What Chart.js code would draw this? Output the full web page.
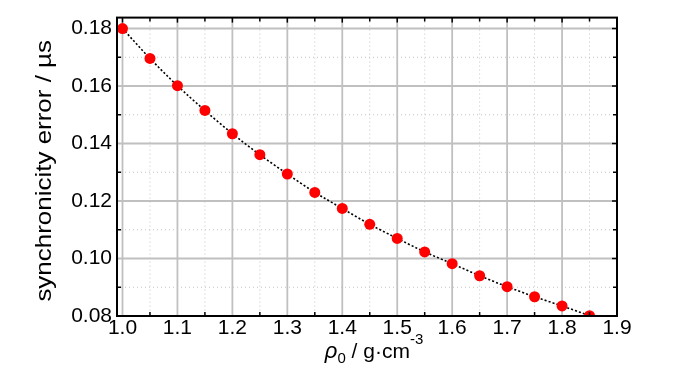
<!DOCTYPE html>
<html>
<head>
<meta charset="utf-8">
<script src="https://cdn.jsdelivr.net/npm/chart.js@4.4.0/dist/chart.umd.min.js"></script>
<style>
  html, body { margin: 0; padding: 0; background: #fff; }
  #wrap { width: 700px; height: 374px; }
</style>
</head>
<body>
<div id="wrap"><canvas id="errChart" width="700" height="374"></canvas></div>
<script>
const density = [1.00, 1.05, 1.10, 1.15, 1.20, 1.25, 1.30, 1.35, 1.40, 1.45, 1.50, 1.55, 1.60, 1.65, 1.70, 1.75, 1.80, 1.85];
const syncError = [0.1800, 0.1696, 0.1601, 0.1515, 0.1434, 0.1361, 0.1294, 0.1230, 0.1174, 0.1119, 0.1070, 0.1023, 0.0982, 0.0940, 0.0902, 0.0867, 0.0835, 0.0801];

const xTicks = [1.0, 1.05, 1.1, 1.15, 1.2, 1.25, 1.3, 1.35, 1.4, 1.45, 1.5, 1.55, 1.6, 1.65, 1.7, 1.75, 1.8, 1.85, 1.9];
const yTicks = [0.08, 0.09, 0.10, 0.11, 0.12, 0.13, 0.14, 0.15, 0.16, 0.17, 0.18];
const xLabels = ["1.0", "1.1", "1.2", "1.3", "1.4", "1.5", "1.6", "1.7", "1.8", "1.9"];
const yLabels = ["0.08", "0.10", "0.12", "0.14", "0.16", "0.18"];

const FONT = "Liberation Sans, Arial, sans-serif";

// grid, frame, inward ticks and axis titles
const framePlugin = {
  id: "frame",
  beforeDatasetsDraw(chart) {
    const { ctx, chartArea: a, scales: { x, y } } = chart;
    ctx.save();
    xTicks.forEach((v, i) => {
      const px = x.getPixelForValue(v);
      ctx.beginPath();
      if (i % 2 === 0) {
        ctx.setLineDash([]);
        ctx.strokeStyle = "#c0c0c0";
        ctx.lineWidth = 1.8;
      } else {
        ctx.setLineDash([1, 3]);
        ctx.strokeStyle = "#c4c4c4";
        ctx.lineWidth = 1;
      }
      ctx.moveTo(px, a.top);
      ctx.lineTo(px, a.bottom);
      ctx.stroke();
    });
    yTicks.forEach((v, i) => {
      const py = y.getPixelForValue(v);
      ctx.beginPath();
      if (i % 2 === 0) {
        ctx.setLineDash([]);
        ctx.strokeStyle = "#c0c0c0";
        ctx.lineWidth = 1.8;
      } else {
        ctx.setLineDash([1, 3]);
        ctx.strokeStyle = "#c4c4c4";
        ctx.lineWidth = 1;
      }
      ctx.moveTo(a.left, py);
      ctx.lineTo(a.right, py);
      ctx.stroke();
    });
    ctx.restore();
  },
  afterDraw(chart) {
    const { ctx, chartArea: a, scales: { x, y } } = chart;
    ctx.save();
    ctx.setLineDash([]);
    ctx.strokeStyle = "#000";
    ctx.lineWidth = 1.5;
    xTicks.forEach((v, i) => {
      const px = x.getPixelForValue(v);
      const major = i % 2 === 0;
      ctx.beginPath();
      ctx.moveTo(px, a.top);
      ctx.lineTo(px, a.top + (major ? 5 : 4));
      if (!major) {
        ctx.moveTo(px, a.bottom);
        ctx.lineTo(px, a.bottom - 4);
      }
      ctx.stroke();
    });
    yTicks.forEach((v, i) => {
      const py = y.getPixelForValue(v);
      const major = i % 2 === 0;
      ctx.beginPath();
      ctx.moveTo(a.right, py);
      ctx.lineTo(a.right - (major ? 5 : 4), py);
      if (!major) {
        ctx.moveTo(a.left, py);
        ctx.lineTo(a.left + 4, py);
      }
      ctx.stroke();
    });
    ctx.lineWidth = 2;
    ctx.strokeRect(a.left, a.top, a.right - a.left, a.bottom - a.top);

    // y title (slightly stretched along its length like the original)
    ctx.fillStyle = "#000";
    ctx.font = "22px " + FONT;
    ctx.textAlign = "center";
    ctx.textBaseline = "middle";
    ctx.translate(45, (a.top + a.bottom) / 2 + 4);
    ctx.rotate(-Math.PI / 2);
    ctx.scale(1.18, 1);
    ctx.fillText("synchronicity error / \u00b5s", 0, 0);
    ctx.setTransform(1, 0, 0, 1, 0, 0);

    // x title with sub/superscript
    const parts = [
      { t: "\u03c1", f: "italic 22px " + FONT, dy: 0 },
      { t: "0", f: "15px " + FONT, dy: 5 },
      { t: " / g\u00b7cm", f: "21px " + FONT, dy: 0 },
      { t: "-3", f: "15px " + FONT, dy: -14 }
    ];
    ctx.textAlign = "left";
    ctx.textBaseline = "alphabetic";
    let total = 0;
    parts.forEach(p => { ctx.font = p.f; total += ctx.measureText(p.t).width; });
    let cx = 374 - total / 2;
    const base = 358;
    parts.forEach(p => {
      ctx.font = p.f;
      ctx.fillText(p.t, cx, base + p.dy);
      cx += ctx.measureText(p.t).width;
    });
    ctx.restore();
  }
};

const ctx = document.getElementById("errChart").getContext("2d");

const chart = new Chart(ctx, {
  type: "scatter",
  data: {
    datasets: [
      {
        label: "synchronicity error",
        data: density.map((d, i) => ({ x: d, y: syncError[i] })),
        showLine: true,
        borderColor: "#000",
        borderWidth: 1.6,
        borderDash: [2, 2],
        tension: 0.3,
        pointRadius: 5.5,
        pointBackgroundColor: "#ff0000",
        pointBorderColor: "#ff0000",
        pointBorderWidth: 0,
        clip: 0,
      },
    ],
  },
  options: {
    responsive: false,
    animation: false,
    events: [],
    layout: {
      padding: { left: 0, right: 83, top: 17, bottom: 0 },
    },
    scales: {
      x: {
        type: "linear",
        min: 0.99,
        max: 1.9,
        afterBuildTicks: (s) => { s.ticks = xTicks.map(v => ({ value: v })); },
        afterFit: (s) => { s.height = 58; },
        grid: { display: false, drawTicks: false },
        border: { display: false },
        ticks: {
          autoSkip: false,
          maxRotation: 0,
          padding: 0,
          color: "#000",
          font: { family: FONT, size: 21 },
          callback: (v, i) => (i % 2 === 0 ? xLabels[i / 2] : ""),
        },
      },
      y: {
        type: "linear",
        min: 0.08,
        max: 0.1838,
        afterBuildTicks: (s) => { s.ticks = yTicks.map(v => ({ value: v })); },
        afterFit: (s) => { s.width = 117; },
        grid: { display: false, drawTicks: false },
        border: { display: false },
        ticks: {
          autoSkip: false,
          padding: 5,
          color: "#000",
          font: { family: FONT, size: 21 },
          callback: (v, i) => (i % 2 === 0 ? yLabels[i / 2] : ""),
        },
      },
    },
    plugins: {
      legend: { display: false },
      tooltip: { enabled: false },
    },
  },
  plugins: [framePlugin],
});
</script>
</body>
</html>
